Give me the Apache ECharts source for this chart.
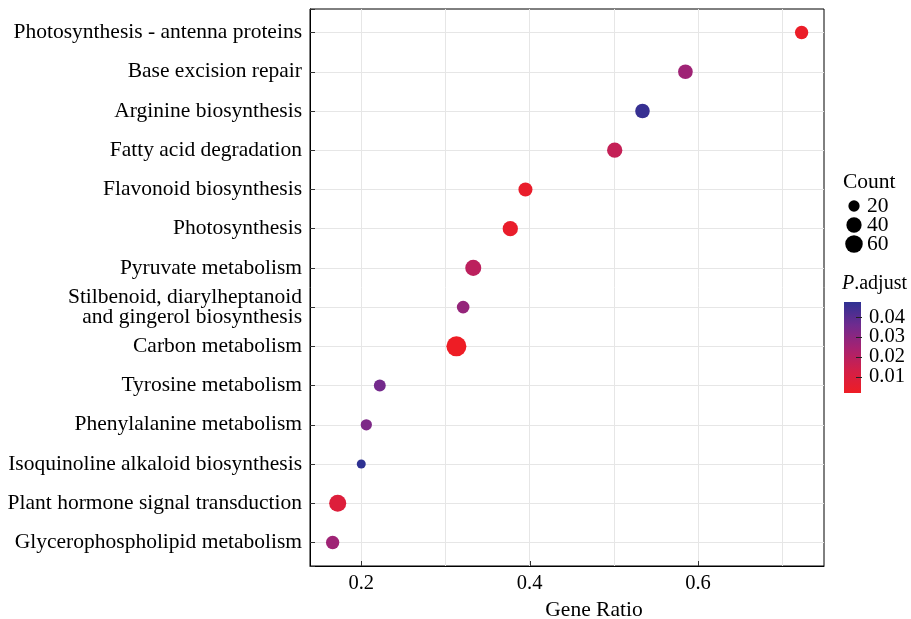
<!DOCTYPE html>
<html><head><meta charset="utf-8">
<script src="https://cdn.jsdelivr.net/npm/echarts@6/dist/echarts.min.js"></script>
<style>html,body{margin:0;padding:0;background:#fff}#c{width:911px;height:619px}</style>
</head><body><div id="c"></div>
<script>
// ---- data (top to bottom as in the chart) ----
const categories = [
  'Photosynthesis - antenna proteins',
  'Base excision repair',
  'Arginine biosynthesis',
  'Fatty acid degradation',
  'Flavonoid biosynthesis',
  'Photosynthesis',
  'Pyruvate metabolism',
  'Stilbenoid, diarylheptanoid\nand gingerol biosynthesis',
  'Carbon metabolism',
  'Tyrosine metabolism',
  'Phenylalanine metabolism',
  'Isoquinoline alkaloid biosynthesis',
  'Plant hormone signal transduction',
  'Glycerophospholipid metabolism'
];
const geneRatio = [0.723, 0.585, 0.534, 0.501, 0.395, 0.377, 0.333, 0.321, 0.313, 0.222, 0.206, 0.200, 0.172, 0.166];
const counts    = [28, 36, 35, 40, 32, 40, 46, 25, 88, 22, 20, 17, 55, 28];
const pAdjust   = [0.003, 0.026, 0.046, 0.017, 0.004, 0.004, 0.019, 0.028, 0.0019, 0.035, 0.033, 0.0476, 0.009, 0.026];
const xTickLabels = [0.2, 0.4, 0.6];
const countLegend = [20, 40, 60];
const pTickLabels = [0.01, 0.02, 0.03, 0.04];

// ---- styling ----
const FONT = 'Liberation Serif';
const FS = 21.5;
const colorsLowToHigh = ['#EE1D25', '#D21F48', '#A52272', '#6E2B8F', '#2E3192'];
const D_MIN = 9, D_MAX = 20;
const cMin = Math.min(...counts), cMax = Math.max(...counts);
const pMin = Math.min(...pAdjust), pMax = Math.max(...pAdjust);
function sizeFn(c) {
  const t = Math.max(0, (c - cMin) / (cMax - cMin));
  return D_MIN + (D_MAX - D_MIN) * Math.sqrt(t);
}
const data = categories.map((c, i) => [geneRatio[i], i + 1, counts[i], pAdjust[i]]);
const near = (arr, v, eps) => arr.some(t => Math.abs(t - v) < eps);

const chart = echarts.init(document.getElementById('c'), null, {renderer: 'canvas'});

const gradStops = colorsLowToHigh.slice().reverse().map((col, i, a) => ({offset: i / (a.length - 1), color: col}));

const legendY = [206, 225, 244];
const graphics = [
  {type: 'text', left: 843, top: 171, style: {text: 'Count', font: FS + 'px "' + FONT + '"', fill: '#000'}},
  {type: 'text', left: 842, top: 274, style: {
    text: '{i|P}.adjust', font: '20px "' + FONT + '"', fill: '#000',
    rich: {i: {fontStyle: 'italic', fontFamily: FONT, fontSize: 20}}
  }}
];
countLegend.forEach((c, i) => {
  graphics.push({type: 'circle', shape: {cx: 854, cy: legendY[i], r: sizeFn(c) / 2}, style: {fill: '#000'}});
  graphics.push({type: 'text', x: 867, y: legendY[i], style: {text: String(c), font: FS + 'px "' + FONT + '"', fill: '#000', verticalAlign: 'middle'}});
});

const option = {
  backgroundColor: '#fff',
  animation: false,
  grid: [
    {left: 310, right: 87, top: 9, bottom: 53, outerBoundsMode: 'none', containLabel: false,
     show: true, borderColor: '#000', borderWidth: 1, backgroundColor: 'transparent'},
    {left: 844, width: 17, top: 302, height: 91, outerBoundsMode: 'none', containLabel: false,
     show: true, borderWidth: 0,
     backgroundColor: new echarts.graphic.LinearGradient(0, 0, 0, 1, gradStops)}
  ],
  xAxis: [
    {type: 'value', gridIndex: 0, min: 0.1391, max: 0.7496, splitNumber: 6,
     name: 'Gene Ratio', nameLocation: 'middle', nameGap: 30,
     nameTextStyle: {fontFamily: FONT, fontSize: FS, color: '#000', padding: [0, 0, 0, 54]},
     axisLine: {show: true, lineStyle: {color: '#000', width: 1}},
     axisTick: {show: false},
     axisLabel: {fontFamily: FONT, fontSize: 20.5, color: '#000', margin: 7,
       formatter: v => near(xTickLabels, v, 1e-6) ? v.toFixed(1) : ''},
     splitLine: {show: true, showMinLine: false, showMaxLine: false, lineStyle: {color: '#E6E6E6', width: 1}}},
    {type: 'value', gridIndex: 1, min: 0, max: 1, show: false}
  ],
  yAxis: [
    {type: 'value', gridIndex: 0, min: 0.4, max: categories.length + 0.6, inverse: true, splitNumber: 14,
     axisLine: {show: true, lineStyle: {color: '#000', width: 1}},
     axisTick: {show: true, inside: true, length: 5, lineStyle: {color: '#333'}},
     axisLabel: {fontFamily: FONT, fontSize: FS, color: '#000', margin: 8, lineHeight: 20, align: 'right',
       formatter: v => (Math.abs(v - Math.round(v)) < 1e-6 && v >= 1 && v <= categories.length) ? categories[Math.round(v) - 1] : ''},
     splitLine: {show: true, showMinLine: false, showMaxLine: false, lineStyle: {color: '#E6E6E6', width: 1}}},
    {type: 'value', gridIndex: 1, min: pMin, max: pMax, position: 'right',
     axisLine: {show: false},
     axisTick: {show: false},
     axisLabel: {fontFamily: FONT, fontSize: 20.5, color: '#000', margin: 8,
       formatter: v => near(pTickLabels, v, 1e-9) ? v.toFixed(2) : ''},
     splitLine: {show: false}}
  ],
  visualMap: {
    show: false, type: 'continuous', seriesIndex: 0, dimension: 3,
    min: pMin, max: pMax, inRange: {color: colorsLowToHigh}
  },
  series: [{
    type: 'scatter', xAxisIndex: 0, yAxisIndex: 0,
    data: data,
    encode: {x: 0, y: 1},
    symbol: 'circle',
    symbolSize: v => sizeFn(v[2]),
    itemStyle: {opacity: 1}
  }],
  graphic: {elements: graphics}
};
chart.setOption(option);

// ticks placed through the axes' own scales
const tickEls = [];
const yBottom = chart.convertToPixel({yAxisIndex: 0}, categories.length + 0.6);
xTickLabels.forEach(v => {
  const px = Math.round(chart.convertToPixel({xAxisIndex: 0}, v)) + 0.5;
  tickEls.push({type: 'line', z: 100, shape: {x1: px, y1: yBottom, x2: px, y2: yBottom - 5}, style: {stroke: '#333', lineWidth: 1}});
});
pTickLabels.forEach(v => {
  const py = Math.round(chart.convertToPixel({yAxisIndex: 1}, v)) + 0.5;
  tickEls.push({type: 'line', z: 100, shape: {x1: 856, y1: py, x2: 862, y2: py}, style: {stroke: '#222', lineWidth: 1}});
});
chart.setOption({graphic: {elements: graphics.concat(tickEls)}});
</script>
</body></html>
